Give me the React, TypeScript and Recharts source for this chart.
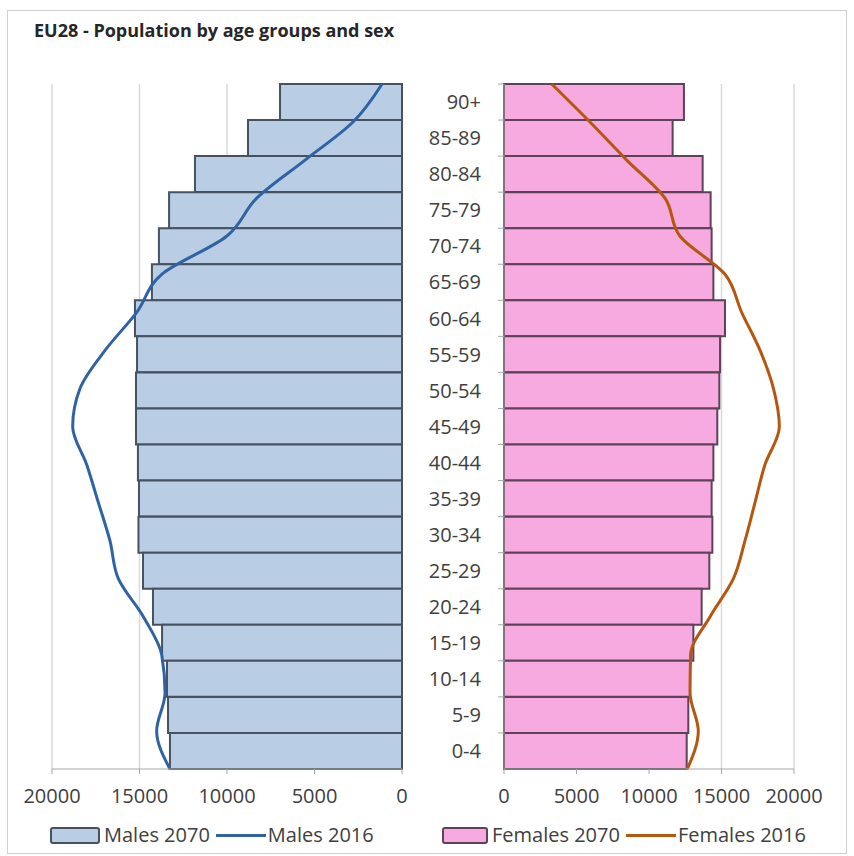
import React from 'react';
import { ComposedChart, Bar, Line, XAxis, YAxis, CartesianGrid } from 'recharts';

const FONT = '"Open Sans", "DejaVu Sans", sans-serif';

const ageGroups = ['90+', '85-89', '80-84', '75-79', '70-74', '65-69', '60-64', '55-59', '50-54', '45-49', '40-44', '35-39', '30-34', '25-29', '20-24', '15-19', '10-14', '5-9', '0-4'];
const males2070 = [6970, 8800, 11830, 13310, 13890, 14290, 15260, 15140, 15200, 15200, 15090, 15030, 15060, 14800, 14230, 13710, 13430, 13370, 13260];
const males2016 = [1140, 2800, 5540, 8300, 10020, 13730, 15160, 16970, 18400, 18820, 18020, 17350, 16690, 16210, 14780, 13730, 13540, 14020, 13260];
const females2070 = [12410, 11630, 13700, 14250, 14320, 14440, 15240, 14900, 14850, 14710, 14440, 14320, 14370, 14160, 13630, 13060, 12830, 12710, 12600];
const females2016 = [3290, 5930, 8460, 11100, 12140, 15240, 16390, 17660, 18580, 18990, 18000, 17310, 16620, 15820, 14210, 12870, 12830, 13400, 12640];
const xTicks = [0, 5000, 10000, 15000, 20000];

const title = 'EU28 - Population by age groups and sex';

const maleData = ageGroups.map((age, i) => ({ age, m2070: males2070[i], m2016: males2016[i] }));
const femaleData = ageGroups.map((age, i) => ({ age, f2070: females2070[i], f2016: females2016[i] }));

const COLORS = {
  maleBar: '#b9cde5',
  maleBarStroke: '#46525f',
  maleLine: '#2f63a3',
  femaleBar: '#f6aadf',
  femaleBarStroke: '#5e4259',
  femaleLine: '#b5570f',
  grid: '#d9d9d9',
  axis: '#a6a6a6',
  text: '#404040',
};

const legendLeft = [
  { label: 'Males 2070', kind: 'bar', fill: COLORS.maleBar, stroke: COLORS.maleBarStroke },
  { label: 'Males 2016', kind: 'line', stroke: COLORS.maleLine },
];
const legendRight = [
  { label: 'Females 2070', kind: 'bar', fill: COLORS.femaleBar, stroke: COLORS.femaleBarStroke },
  { label: 'Females 2016', kind: 'line', stroke: COLORS.femaleLine },
];

const TICK_SIZE = 6;
const TICK_MARGIN = 17;
const LABEL_SIZE = 20;

const CategoryTick = (props: any) => {
  const { x, y, payload } = props;
  const off = payload && typeof payload.offset === 'number' ? payload.offset : 0;
  return (
    <g>
      <text x={x} y={y} dy="0.36em" textAnchor="end" fill={COLORS.text} fontSize={LABEL_SIZE} fontFamily={FONT}>
        {payload.value}
      </text>
      {off > 0 && (
        <line x1={x + TICK_MARGIN} x2={x + TICK_MARGIN + TICK_SIZE} y1={y - off} y2={y - off} stroke={COLORS.axis} strokeWidth={1} />
      )}
    </g>
  );
};

const xTickStyle = { fill: COLORS.text, fontSize: LABEL_SIZE, fontFamily: FONT };

const LegendGroup = ({ items, left, swatchW }: any) => (
  <div style={{ position: 'absolute', left, top: 824, display: 'flex', alignItems: 'center', fontFamily: FONT, fontSize: LABEL_SIZE, color: COLORS.text, lineHeight: '22px', whiteSpace: 'nowrap' }}>
    {items.map((it: any) => (
      <div key={it.label} style={{ display: 'flex', alignItems: 'center', marginRight: 6 }}>
        {it.kind === 'bar' ? (
          <svg width={swatchW} height={17} style={{ marginRight: 4 }}>
            <rect x={1} y={1} width={swatchW - 2} height={15} fill={it.fill} stroke={it.stroke} strokeWidth={2} rx={2} />
          </svg>
        ) : (
          <svg width={50} height={17} style={{ marginRight: 2 }}>
            <line x1={0} x2={50} y1={8.5} y2={8.5} stroke={it.stroke} strokeWidth={3} />
          </svg>
        )}
        <span>{it.label}</span>
      </div>
    ))}
  </div>
);

export default function App() {
  return (
    <div style={{ position: 'absolute', left: 0, top: 0, width: 854, height: 856, background: '#fff', overflow: 'hidden' }}>
      <div style={{ position: 'absolute', left: 7, top: 10, width: 838, height: 842, border: '1px solid #cfcfcf' }} />
      <div style={{ position: 'absolute', left: 34, top: 18, fontFamily: FONT, fontWeight: 700, fontSize: 18, lineHeight: '24px', color: '#262626', whiteSpace: 'nowrap' }}>
        {title}
      </div>

      <div style={{ position: 'absolute', left: 0, top: 0 }}>
        <ComposedChart width={420} height={812} data={maleData} layout="vertical" barCategoryGap={0} margin={{ top: 84, right: 18, left: 52, bottom: 3 }}>
          <CartesianGrid horizontal={false} vertical={true} stroke={COLORS.grid} strokeWidth={1.5} />
          <XAxis type="number" domain={[0, 20000]} ticks={xTicks} reversed interval={0} height={40}
            tick={xTickStyle} tickSize={5} tickMargin={15} axisLine={{ stroke: COLORS.axis }} tickLine={{ stroke: COLORS.axis }} />
          <YAxis yAxisId="band" type="category" dataKey="age" hide />
          <YAxis yAxisId="pt" type="category" dataKey="age" scale="point" hide />
          <Bar yAxisId="band" dataKey="m2070" name="Males 2070" fill={COLORS.maleBar} stroke={COLORS.maleBarStroke} strokeWidth={2} isAnimationActive={false} />
          <Line yAxisId="pt" dataKey="m2016" name="Males 2016" type="monotone" stroke={COLORS.maleLine} strokeWidth={3} dot={false} isAnimationActive={false} />
        </ComposedChart>
      </div>

      <div style={{ position: 'absolute', left: 420, top: 0 }}>
        <ComposedChart width={434} height={812} data={femaleData} layout="vertical" barCategoryGap={0} margin={{ top: 84, right: 60, left: 0, bottom: 3 }}>
          <CartesianGrid horizontal={false} vertical={true} stroke={COLORS.grid} strokeWidth={1.5} />
          <XAxis type="number" domain={[0, 20000]} ticks={xTicks} interval={0} height={40}
            tick={xTickStyle} tickSize={5} tickMargin={15} axisLine={{ stroke: COLORS.axis }} tickLine={{ stroke: COLORS.axis }} />
          <YAxis yAxisId="band" type="category" dataKey="age" width={84} interval={0}
            tick={<CategoryTick />} tickLine={false} tickSize={TICK_SIZE} tickMargin={TICK_MARGIN} axisLine={{ stroke: COLORS.axis }} />
          <YAxis yAxisId="pt" type="category" dataKey="age" scale="point" hide />
          <Bar yAxisId="band" dataKey="f2070" name="Females 2070" fill={COLORS.femaleBar} stroke={COLORS.femaleBarStroke} strokeWidth={2} isAnimationActive={false} />
          <Line yAxisId="pt" dataKey="f2016" name="Females 2016" type="monotone" stroke={COLORS.femaleLine} strokeWidth={3} dot={false} isAnimationActive={false} />
        </ComposedChart>
      </div>

      <LegendGroup items={legendLeft} left={50} swatchW={50} />
      <LegendGroup items={legendRight} left={442} swatchW={46} />
    </div>
  );
}
